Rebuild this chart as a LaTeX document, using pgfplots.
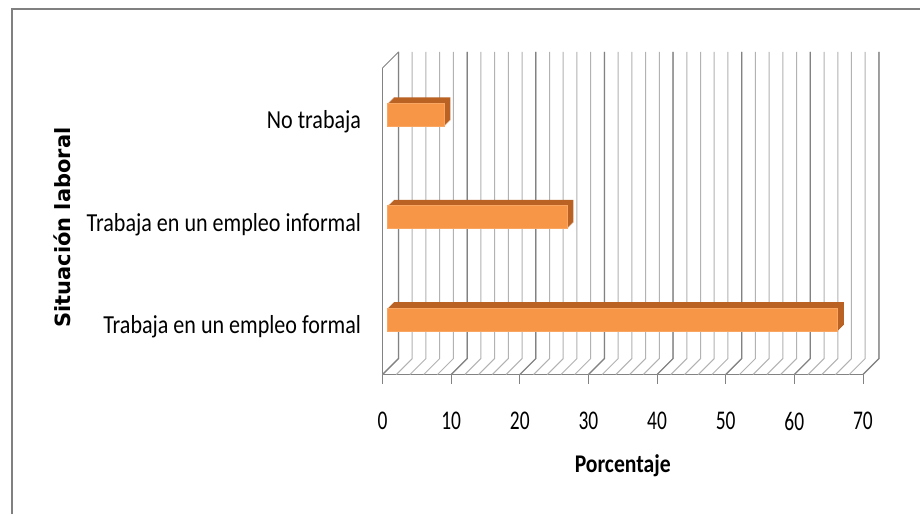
\documentclass[border=0pt]{standalone}
\usepackage{pgfplots}
\pgfplotsset{compat=1.18}
\usepackage{fontspec}
\setmainfont{Carlito}[FakeStretch=0.85]
\newfontfamily\tickfont{Carlito}[FakeStretch=0.72]
\newfontfamily\ylabfont{DejaVu Sans}
\definecolor{barfront}{RGB}{247,150,70}
\definecolor{barside}{RGB}{185,98,35}
\definecolor{gridmaj}{RGB}{130,130,130}
\definecolor{gridmin}{RGB}{178,178,178}
\definecolor{frame}{RGB}{128,128,128}
\begin{document}
\begin{tikzpicture}[x=1pt,y=1pt]
\fill[white] (0,0) rectangle (921,515);
\draw[frame,line width=2.2pt] (12,0) -- (12,506) -- (921,506);
\begin{axis}[
  at={(383pt,140pt)}, anchor=south west,
  scale only axis, width=481pt, height=307pt,
  xmin=0, xmax=70, ymin=-0.478, ymax=2.517,
  clip=false,
  axis lines*=left,
  axis line style={gridmaj, line width=0.9pt},
  xtick={0,10,...,70},
  xtick style={gridmaj, line width=0.9pt},
  major tick length=9pt,
  tick align=outside,
  ytick={0,1,2},
  yticklabels={Trabaja en un empleo formal, Trabaja en un empleo informal, No trabaja},
  ytick style={draw=none},
  yticklabel style={anchor=east, xshift=-9pt, yshift=-1pt, font=\fontsize{26}{28}\selectfont},
  xticklabel style={font=\tickfont\fontsize{27}{30}\selectfont, yshift=-25pt},
  /pgf/number format/assume math mode=true,
  xlabel={\textbf{Porcentaje}},
  xlabel style={at={(axis description cs:0.5,-0.296)}, anchor=center, font=\fontsize{25.5}{28}\selectfont},
  ylabel={Situación laboral},
  ylabel style={at={(axis description cs:-0.667,0.479)}, anchor=center, font=\ylabfont\bfseries\fontsize{21}{24}\selectfont},
  xbar, bar width=23pt, bar shift=0pt,
]
% back wall grid and floor
\pgfplotsinvokeforeach{0,2,...,70}{
  \draw[gridmin, line width=1pt] (axis cs:#1,-0.478) -- ([shift={(16pt,16pt)}]axis cs:#1,-0.478) -- ([shift={(16pt,16pt)}]axis cs:#1,2.517);
}
\pgfplotsinvokeforeach{0,10,...,70}{
  \draw[gridmaj, line width=1.2pt] (axis cs:#1,-0.478) -- ([shift={(16pt,16pt)}]axis cs:#1,-0.478) -- ([shift={(16pt,16pt)}]axis cs:#1,2.517);
}
\draw[gridmaj, line width=0.9pt] (axis cs:0,2.517) -- ([shift={(16pt,16pt)}]axis cs:0,2.517);
% bars: extruded side/top faces then front faces
\pgfplotsinvokeforeach{1,2,3,4,5,6}{
  \addplot[draw=none, fill=barside, xshift={(5+#1)*1pt}, yshift={(6+#1)*1pt}] coordinates {(65.6,0) (26.2,1) (8.3,2)};
}
\addplot[draw=barfront!85!white, line width=0.6pt, fill=barfront, xshift=5pt, yshift=6pt] coordinates {(65.6,0) (26.2,1) (8.3,2)};
\end{axis}
\end{tikzpicture}
\end{document}
